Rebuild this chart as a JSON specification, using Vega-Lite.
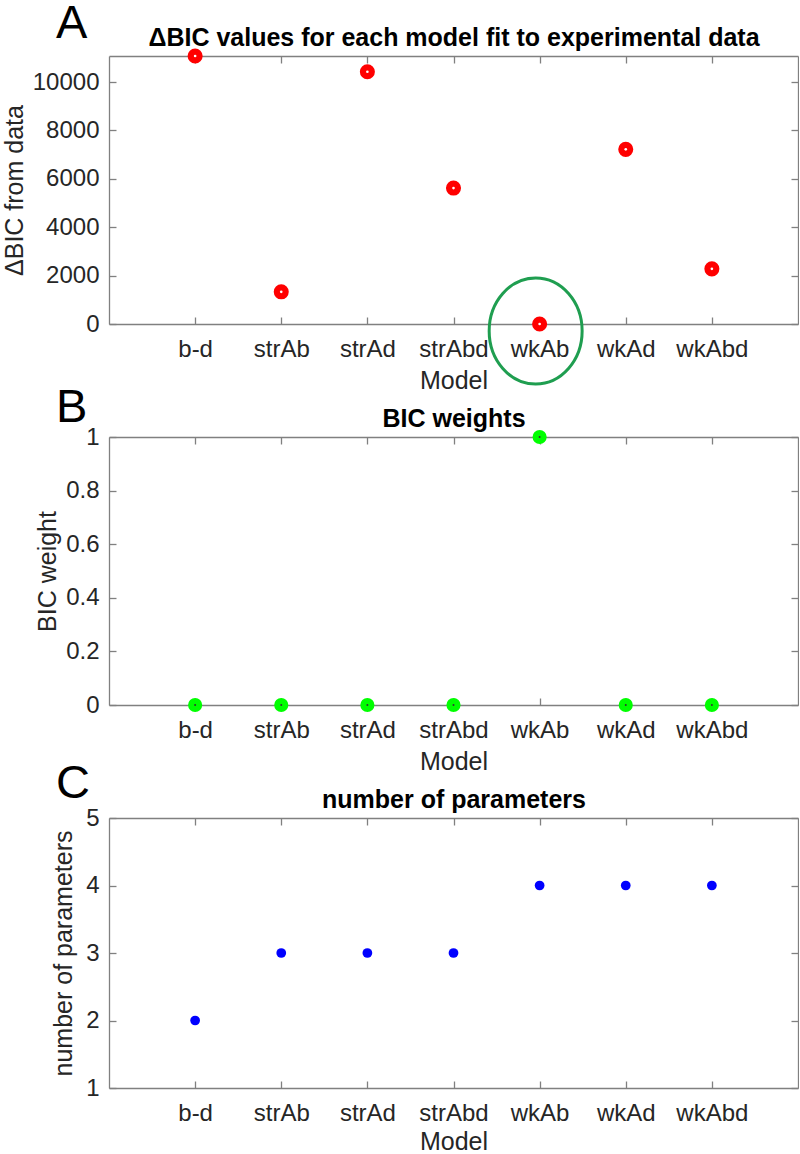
{
  "$schema": "https://vega.github.io/schema/vega-lite/v6.json",
  "autosize": {"type": "pad"},
  "padding": {"left": 2, "top": 0, "right": 0, "bottom": 0},
  "background": "white",
  "bounds": "flush",
  "spacing": 113,
  "config": {
    "font": "Liberation Sans",
    "view": {"stroke": null},
    "axis": {
      "domainColor": "#808080", "tickColor": "#808080", "labelColor": "#262626", "titleColor": "#262626",
      "labelFont": "Liberation Sans", "titleFont": "Liberation Sans", "labelFontSize": 24, "titleFontSize": 25,
      "titleFontWeight": "normal", "grid": false, "tickSize": -7, "domainWidth": 1.3, "tickWidth": 1.3,
      "labelOverlap": false, "labelBound": false, "labelFlush": false
    },
    "title": {"font": "Liberation Sans", "fontSize": 47, "fontWeight": "normal", "color": "black", "anchor": "start", "frame": "group", "baseline": "alphabetic"}
  },
  "datasets": {
    "models": [
      {"model": "b-d", "dbic": 11080, "weight": 0, "nparams": 2},
      {"model": "strAb", "dbic": 1330, "weight": 0, "nparams": 3},
      {"model": "strAd", "dbic": 10430, "weight": 0, "nparams": 3},
      {"model": "strAbd", "dbic": 5620, "weight": 0, "nparams": 3},
      {"model": "wkAb", "dbic": 0, "weight": 1, "nparams": 4},
      {"model": "wkAd", "dbic": 7220, "weight": 0, "nparams": 4},
      {"model": "wkAbd", "dbic": 2280, "weight": 0, "nparams": 4}
    ]
  },
  "vconcat": [
    {
      "width": 689, "height": 268,
      "data": {"name": "models"},
      "title": {"text": "A", "dx": -53, "dy": 27},
      "layer": [
        {
          "mark": {"type": "point", "shape": "circle", "filled": true, "color": "#ff0000", "size": 227, "opacity": 1},
          "encoding": {
            "x": {"field": "model", "type": "nominal", "sort": null,
                  "scale": {"type": "point", "padding": 1, "domain": ["b-d", "strAb", "strAd", "strAbd", "wkAb", "wkAd", "wkAbd"]},
                  "axis": {"orient": "bottom", "title": "Model", "labelAngle": 0, "labelPadding": 20, "titlePadding": 7}},
            "y": {"field": "dbic", "type": "quantitative", "scale": {"domain": [0, 11080], "nice": false, "zero": false},
                  "axis": {"orient": "left", "title": "ΔBIC from data", "values": [0, 2000, 4000, 6000, 8000, 10000], "format": "d", "labelPadding": 17, "titlePadding": 5}}
          }
        },
        {
          "mark": {"type": "point", "shape": "circle", "filled": true, "color": "white", "size": 7, "opacity": 1},
          "encoding": {
            "x": {"field": "model", "type": "nominal", "sort": null,
                  "axis": {"orient": "top", "labels": false, "title": "ΔBIC values for each model fit to experimental data", "titleFontWeight": "bold", "titleFontSize": 25, "titleColor": "black", "titlePadding": 5}},
            "y": {"field": "dbic", "type": "quantitative",
                  "axis": {"orient": "right", "labels": false, "title": null, "values": [0, 2000, 4000, 6000, 8000, 10000]}}
          }
        },
        {
          "transform": [{"filter": "datum.model == 'wkAb'"}],
          "mark": {"type": "point", "shape": "M -0.952 0.132 A 0.877 1 0 1 0 0.802 0.132 A 0.877 1 0 1 0 -0.952 0.132 Z", "filled": false, "color": "#1f9e50", "strokeWidth": 3, "size": 11236, "opacity": 1},
          "encoding": {
            "x": {"field": "model", "type": "nominal", "sort": null, "axis": null},
            "y": {"field": "dbic", "type": "quantitative", "axis": null}
          }
        }
      ],
      "resolve": {"axis": {"x": "independent", "y": "independent"}}
    },
    {
      "width": 689, "height": 268,
      "data": {"name": "models"},
      "title": {"text": "B", "dx": -53, "dy": 30},
      "layer": [
        {
          "mark": {"type": "point", "shape": "circle", "filled": true, "color": "#00ff00", "size": 200, "opacity": 1},
          "encoding": {
            "x": {"field": "model", "type": "nominal", "sort": null,
                  "scale": {"type": "point", "padding": 1, "domain": ["b-d", "strAb", "strAd", "strAbd", "wkAb", "wkAd", "wkAbd"]},
                  "axis": {"orient": "bottom", "title": "Model", "labelAngle": 0, "labelPadding": 20, "titlePadding": 7}},
            "y": {"field": "weight", "type": "quantitative", "scale": {"domain": [0, 1], "nice": false, "zero": false},
                  "axis": {"orient": "left", "title": "BIC weight", "values": [0, 0.2, 0.4, 0.6, 0.8, 1], "format": "~g", "labelPadding": 17, "titlePadding": 5}}
          }
        },
        {
          "mark": {"type": "point", "shape": "circle", "filled": true, "color": "#333333", "size": 4, "opacity": 1},
          "encoding": {
            "x": {"field": "model", "type": "nominal", "sort": null,
                  "axis": {"orient": "top", "labels": false, "title": "BIC weights", "titleFontWeight": "bold", "titleFontSize": 25, "titleColor": "black", "titlePadding": 5}},
            "y": {"field": "weight", "type": "quantitative",
                  "axis": {"orient": "right", "labels": false, "title": null, "values": [0, 0.2, 0.4, 0.6, 0.8, 1]}}
          }
        }
      ],
      "resolve": {"axis": {"x": "independent", "y": "independent"}}
    },
    {
      "width": 689, "height": 270,
      "data": {"name": "models"},
      "title": {"text": "C", "dx": -53, "dy": 25},
      "layer": [
        {
          "mark": {"type": "point", "shape": "circle", "filled": true, "color": "#0000ff", "size": 95, "opacity": 1},
          "encoding": {
            "x": {"field": "model", "type": "nominal", "sort": null,
                  "scale": {"type": "point", "padding": 1, "domain": ["b-d", "strAb", "strAd", "strAbd", "wkAb", "wkAd", "wkAbd"]},
                  "axis": {"orient": "bottom", "title": "Model", "labelAngle": 0, "labelPadding": 20, "titlePadding": 4}},
            "y": {"field": "nparams", "type": "quantitative", "scale": {"domain": [1, 5], "nice": false, "zero": false},
                  "axis": {"orient": "left", "title": "number of parameters", "values": [1, 2, 3, 4, 5], "format": "d", "labelPadding": 17, "titlePadding": 9}}
          }
        },
        {
          "mark": {"type": "point", "shape": "circle", "filled": true, "color": "#0000ff", "size": 1, "opacity": 0},
          "encoding": {
            "x": {"field": "model", "type": "nominal", "sort": null,
                  "axis": {"orient": "top", "labels": false, "title": "number of parameters", "titleFontWeight": "bold", "titleFontSize": 25, "titleColor": "black", "titlePadding": 5}},
            "y": {"field": "nparams", "type": "quantitative",
                  "axis": {"orient": "right", "labels": false, "title": null, "values": [1, 2, 3, 4, 5]}}
          }
        }
      ],
      "resolve": {"axis": {"x": "independent", "y": "independent"}}
    }
  ]
}
